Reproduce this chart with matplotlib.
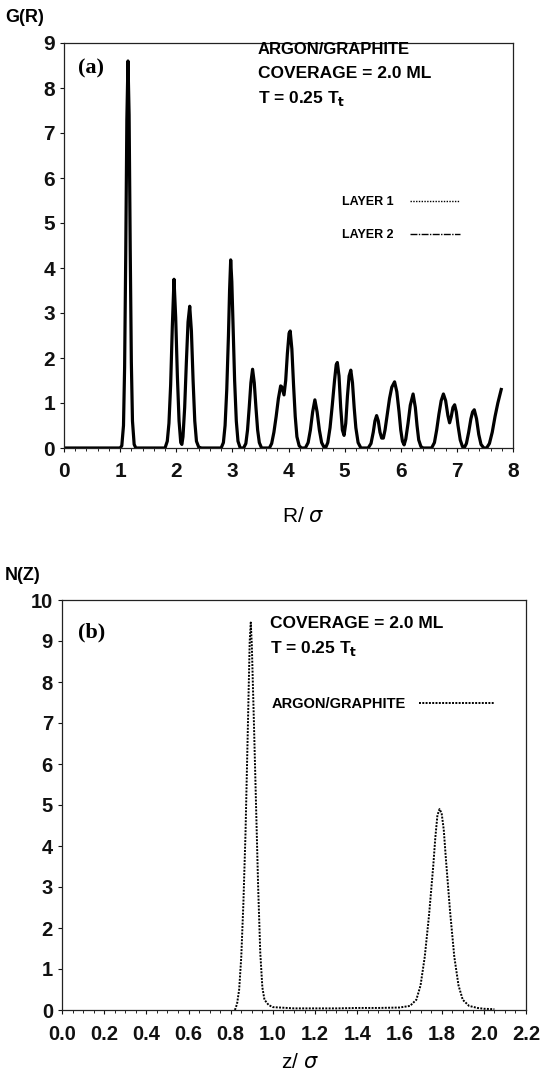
import matplotlib
matplotlib.use('Agg')
import matplotlib.pyplot as plt
from matplotlib.lines import Line2D
from matplotlib.ticker import MultipleLocator

plt.rcParams['font.family'] = ['Liberation Sans', 'DejaVu Sans']
plt.rcParams['mathtext.fontset'] = 'dejavusans'

# panel (a): pair distribution G(R) vs R/sigma
r_vals = [0.00, 0.50, 1.00, 1.03, 1.06, 1.08, 1.10, 1.12, 1.14, 1.16, 1.18, 1.20, 1.22, 1.25, 1.28,
          1.50, 1.80, 1.84, 1.87, 1.90, 1.93, 1.96, 1.99, 2.02, 2.05, 2.08, 2.10, 2.12, 2.15, 2.18,
          2.21, 2.24, 2.27, 2.30, 2.33, 2.36, 2.40, 2.45, 2.60, 2.80, 2.84, 2.87, 2.90, 2.93, 2.95,
          2.97, 2.99, 3.01, 3.04, 3.07, 3.10, 3.14, 3.20, 3.24, 3.27, 3.30, 3.33, 3.36, 3.39, 3.42,
          3.45, 3.48, 3.52, 3.66, 3.70, 3.74, 3.78, 3.82, 3.86, 3.88, 3.92, 3.95, 3.98, 4.01, 4.03,
          4.06, 4.09, 4.12, 4.15, 4.19, 4.23, 4.30, 4.35, 4.39, 4.43, 4.47, 4.51, 4.55, 4.59, 4.64,
          4.66, 4.70, 4.74, 4.78, 4.82, 4.85, 4.87, 4.90, 4.93, 4.96, 4.99, 5.02, 5.05, 5.08, 5.11,
          5.14, 5.17, 5.20, 5.24, 5.29, 5.42, 5.47, 5.51, 5.54, 5.57, 5.60, 5.63, 5.66, 5.69, 5.72,
          5.76, 5.80, 5.84, 5.89, 5.93, 5.97, 6.00, 6.03, 6.06, 6.09, 6.13, 6.17, 6.22, 6.26, 6.29,
          6.32, 6.36, 6.40, 6.55, 6.60, 6.64, 6.68, 6.72, 6.76, 6.80, 6.84, 6.87, 6.90, 6.93, 6.96,
          6.99, 7.02, 7.06, 7.10, 7.13, 7.17, 7.21, 7.25, 7.28, 7.31, 7.35, 7.39, 7.43, 7.48, 7.53,
          7.58, 7.63, 7.68, 7.73, 7.79]
g_vals = [0.00, 0.00, 0.00, 0.05, 0.50, 1.80, 4.30, 7.30, 8.60, 7.40, 4.40, 1.90, 0.60, 0.08, 0.00,
          0.00, 0.00, 0.15, 0.55, 1.40, 2.70, 3.75, 2.90, 1.60, 0.60, 0.12, 0.08, 0.25, 0.90, 1.90,
          2.80, 3.15, 2.60, 1.50, 0.60, 0.15, 0.02, 0.00, 0.00, 0.00, 0.12, 0.50, 1.30, 2.50, 3.50,
          4.18, 3.70, 2.80, 1.50, 0.60, 0.15, 0.00, 0.00, 0.10, 0.40, 0.90, 1.45, 1.75, 1.45, 0.90,
          0.40, 0.12, 0.00, 0.00, 0.10, 0.35, 0.70, 1.10, 1.38, 1.36, 1.18, 1.50, 2.10, 2.55, 2.60,
          2.20, 1.40, 0.70, 0.25, 0.05, 0.00, 0.00, 0.12, 0.40, 0.80, 1.07, 0.80, 0.40, 0.12, 0.00,
          0.00, 0.12, 0.45, 0.95, 1.50, 1.85, 1.90, 1.60, 0.90, 0.40, 0.28, 0.55, 1.15, 1.60, 1.73,
          1.45, 0.90, 0.45, 0.12, 0.00, 0.00, 0.10, 0.35, 0.60, 0.72, 0.60, 0.35, 0.22, 0.22, 0.40,
          0.75, 1.10, 1.35, 1.47, 1.25, 0.80, 0.40, 0.15, 0.07, 0.20, 0.55, 0.95, 1.20, 0.90, 0.50,
          0.18, 0.03, 0.00, 0.00, 0.12, 0.40, 0.75, 1.05, 1.20, 1.05, 0.72, 0.56, 0.70, 0.90, 0.96,
          0.80, 0.50, 0.18, 0.03, 0.00, 0.10, 0.35, 0.65, 0.80, 0.85, 0.65, 0.30, 0.08, 0.00, 0.00,
          0.10, 0.35, 0.70, 1.00, 1.30]

# panel (b): density profile N(Z) vs z/sigma
z_vals = [0.82, 0.83, 0.84, 0.85, 0.86, 0.87, 0.88, 0.89, 0.895, 0.90, 0.91, 0.92, 0.93, 0.94, 0.95,
          0.96, 0.98, 1.00, 1.10, 1.20, 1.30, 1.40, 1.50, 1.60, 1.65, 1.68, 1.70, 1.72, 1.74, 1.76,
          1.77, 1.78, 1.79, 1.80, 1.81, 1.82, 1.84, 1.86, 1.88, 1.90, 1.93, 1.97, 2.00, 2.05]
n_vals = [0.00, 0.15, 0.50, 1.30, 2.60, 4.30, 6.60, 9.00, 9.45, 8.90, 7.00, 5.00, 3.00, 1.40, 0.55,
          0.25, 0.12, 0.07, 0.04, 0.04, 0.04, 0.05, 0.05, 0.06, 0.10, 0.25, 0.60, 1.30, 2.30, 3.50,
          4.20, 4.75, 4.90, 4.80, 4.40, 3.70, 2.40, 1.30, 0.60, 0.25, 0.10, 0.05, 0.03, 0.02]

W, H = 541, 1078
fig = plt.figure(figsize=(W / 100, H / 100), dpi=100)


def px(x, y):
    # pixel position (from top-left) -> figure fraction
    return x / W, 1 - y / H


def style_axes(ax, tick_size):
    for sp in ax.spines.values():
        sp.set_linewidth(0.9)
        sp.set_color('#222222')
    ax.tick_params(which='major', direction='out', length=3, width=0.8,
                   labelsize=tick_size, colors='#111111')
    ax.tick_params(which='minor', direction='out', length=2, width=0.6)
    for lab in ax.get_xticklabels() + ax.get_yticklabels():
        lab.set_fontweight('bold')


# ---- panel (a)
ax1 = fig.add_axes([64 / W, 1 - 448 / H, 449 / W, 405 / H])
ax1.plot(r_vals, g_vals, color='black', lw=2.3)
ax1.set_xlim(0, 8)
ax1.set_ylim(0, 9)
ax1.xaxis.set_major_locator(MultipleLocator(1))
ax1.xaxis.set_minor_locator(MultipleLocator(0.2))
ax1.yaxis.set_major_locator(MultipleLocator(1))
ax1.tick_params(axis='x', pad=7)
style_axes(ax1, 15)

handles = [Line2D([], [], color='black', lw=1.0, linestyle=(0, (1, 1))),
           Line2D([], [], color='black', lw=1.0, linestyle=(0, (5, 1, 1, 1)))]
ax1.legend(handles, ['LAYER 1', 'LAYER 2'], loc='upper left',
           bbox_to_anchor=px(342, 196), bbox_transform=fig.transFigure,
           frameon=False, markerfirst=False, borderpad=0, borderaxespad=0,
           handlelength=4.0, handletextpad=1.3, labelspacing=1.7,
           prop={'size': 9, 'weight': 'bold'})

fig.text(*px(5, 17), 'G(R)', fontsize=13, fontweight='bold', va='center', ha='left')
fig.text(*px(78, 68), '(a)', fontsize=16, fontweight='bold', family='Liberation Serif',
         va='center', ha='left')
fig.text(*px(258, 50), 'ARGON/GRAPHITE', fontsize=12, fontweight='bold', va='center')
fig.text(*px(258, 74), 'COVERAGE = 2.0 ML', fontsize=12.5, fontweight='bold', va='center')
fig.text(*px(258, 98), r'T = 0.25 T$_\mathbf{t}$', fontsize=12.5, fontweight='bold', va='center')
fig.text(*px(303, 516), r'R/ $\sigma$', fontsize=15, ha='center', va='center')

# ---- panel (b)
ax2 = fig.add_axes([62 / W, 1 - 1010 / H, 464 / W, 410 / H])
ax2.plot(z_vals, n_vals, color='black', lw=1.4, linestyle=(0, (1, 0.7)),
         label='ARGON/GRAPHITE')
ax2.set_xlim(0, 2.2)
ax2.set_ylim(0, 10)
ax2.xaxis.set_major_locator(MultipleLocator(0.2))
ax2.xaxis.set_minor_locator(MultipleLocator(0.05))
ax2.xaxis.set_major_formatter('{x:.1f}')
ax2.yaxis.set_major_locator(MultipleLocator(1))
ax2.tick_params(axis='x', pad=8)
style_axes(ax2, 14.5)

ax2.legend(loc='upper left', bbox_to_anchor=px(272, 697), bbox_transform=fig.transFigure,
           frameon=False, markerfirst=False, borderpad=0, borderaxespad=0,
           handlelength=5.2, handletextpad=0.9, prop={'size': 10.5, 'weight': 'bold'})

fig.text(*px(5, 575), 'N(Z)', fontsize=13, fontweight='bold', va='center', ha='left')
fig.text(*px(78, 632), '(b)', fontsize=16, fontweight='bold', family='Liberation Serif',
         va='center', ha='left')
fig.text(*px(270, 623), 'COVERAGE = 2.0 ML', fontsize=12.5, fontweight='bold', va='center')
fig.text(*px(270, 648), r'T = 0.25 T$_\mathbf{t}$', fontsize=12.5, fontweight='bold', va='center')
fig.text(*px(300, 1063), r'z/ $\sigma$', fontsize=15, ha='center', va='center')

fig.savefig('out.png', dpi=100)
